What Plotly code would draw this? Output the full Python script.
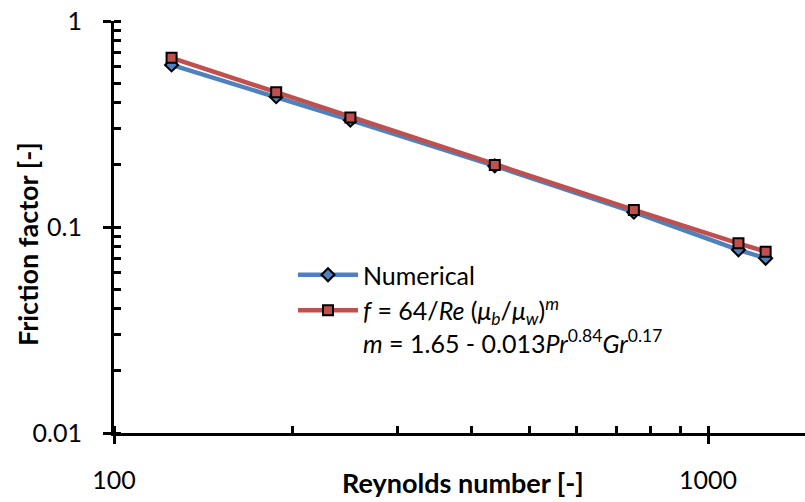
import math
import plotly.graph_objects as go

# ---- data ----
re_vals = [125, 187.5, 250, 437.5, 750, 1125, 1250]
f_numerical = [0.612, 0.429, 0.330, 0.198, 0.118, 0.0775, 0.0705]
f_correlation = [0.663, 0.451, 0.340, 0.200, 0.121, 0.0833, 0.0759]
x_tickvals = [100, 1000]
x_ticktext = ["100", "1000"]
y_tickvals = [0.01, 0.1, 1]
y_ticktext = ["0.01", "0.1", "1"]
x_title = "Reynolds number [-]"
y_title = "Friction factor [-]"
name_numerical = "Numerical"
name_correlation = ("<i>f</i> = 64/<i>Re</i> (<i>μ</i><sub><i>b</i></sub>/<i>μ</i><sub><i>w</i></sub>)<sup><i>m</i></sup>"
                    "<br><i>m</i> = 1.65 - 0.013<i>Pr</i><sup>0.84</sup><i>Gr</i><sup>0.17</sup>")

FONT = "Lato, Carlito, Calibri, sans-serif"
BLUE = "#4F81BD"
RED = "#C0504D"

W, H = 805, 502
L, R, T, B = 114, 0, 21, 69
PW, PH = W - L - R, H - T - B
x_range_max = 1456


def px_x(p):
    return (p - L) / PW


def px_y(p):
    return 1 - (p - T) / PH


fig = go.Figure()
fig.add_trace(go.Scatter(
    x=re_vals, y=f_numerical, mode="lines+markers", name=name_numerical,
    line=dict(color=BLUE, width=4.5),
    marker=dict(symbol="diamond", size=10, color=BLUE, line=dict(color="black", width=2)),
))
fig.add_trace(go.Scatter(
    x=re_vals, y=f_correlation, mode="lines+markers", name=name_correlation,
    line=dict(color=RED, width=4.5),
    marker=dict(symbol="square", size=10, color=RED, line=dict(color="black", width=2)),
))

axis_common = dict(
    type="log", showgrid=False, zeroline=False,
    showline=True, linecolor="black", linewidth=3,
    ticks="outside", ticklen=8, tickwidth=3, tickcolor="black",
    tickfont=dict(family=FONT, size=25, color="black"),
    minor=dict(ticks="inside", ticklen=7, tickwidth=2.5, tickcolor="black", dtick="D1", showgrid=False),
)
fig.update_layout(
    width=W, height=H,
    margin=dict(l=L, r=R, t=T, b=B),
    paper_bgcolor="white", plot_bgcolor="white",
    font=dict(family=FONT, size=25, color="black"),
    xaxis=dict(axis_common, range=[2, math.log10(x_range_max)],
               tickmode="array", tickvals=x_tickvals, ticktext=x_ticktext,
               ticklabelstandoff=15),
    yaxis=dict(axis_common, range=[-2, 0],
               tickmode="array", tickvals=y_tickvals, ticktext=y_ticktext,
               ticklabelstandoff=16),
    legend=dict(
        x=px_x(293), y=px_y(252),
        xanchor="left", yanchor="top",
        bgcolor="rgba(0,0,0,0)", borderwidth=0,
        font=dict(family=FONT, size=25, color="black"),
        valign="top", itemwidth=60, tracegroupgap=0,
    ),
    showlegend=True,
    annotations=[
        dict(text="<b>" + x_title + "</b>", xref="paper", yref="paper",
             x=px_x(463), y=px_y(501),
             xanchor="center", yanchor="bottom", showarrow=False,
             font=dict(family=FONT, size=27, color="black")),
        dict(text="<b>" + y_title + "</b>", xref="paper", yref="paper",
             x=px_x(27), y=px_y(244),
             xanchor="center", yanchor="middle", textangle=-90, showarrow=False,
             font=dict(family=FONT, size=27, color="black")),
    ],
)

fig.write_html("out.html")
